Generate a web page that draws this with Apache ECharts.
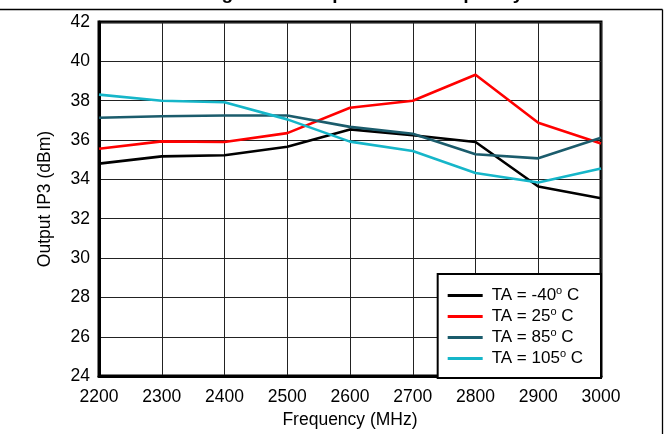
<!DOCTYPE html>
<html>
<head>
<meta charset="utf-8">
<script src="https://cdn.jsdelivr.net/npm/echarts@6/dist/echarts.min.js"></script>
<style>
  html, body { margin: 0; padding: 0; background: #fff; }
  #chart { width: 669px; height: 434px; }
</style>
</head>
<body>
<div id="chart"></div>
<script>
// Frequency sweep points (MHz)
const freqMHz = [2200, 2300, 2400, 2500, 2600, 2700, 2800, 2900, 3000];

// Output IP3 (dBm) at each ambient temperature
const ip3Minus40 = [34.8, 35.17, 35.23, 35.66, 36.54, 36.24, 35.9, 33.64, 33.04];
const ip3Plus25  = [35.56, 35.93, 35.9, 36.35, 37.64, 38.0, 39.32, 36.88, 35.82];
const ip3Plus85  = [37.13, 37.21, 37.25, 37.25, 36.67, 36.32, 35.28, 35.07, 36.12];
const ip3Plus105 = [38.31, 38.0, 37.92, 37.05, 35.92, 35.44, 34.32, 33.84, 34.55];

// Legend labels
const tempLabels = ['TA = -40° C', 'TA = 25° C', 'TA = 85° C', 'TA = 105° C'];
const lineColors = ['#000000', '#ff0000', '#1b5c6c', '#16b6c9'];

// Axis ranges
const xRange = { min: 2200, max: 3000, step: 100 };
const yRange = { min: 24, max: 42, step: 2 };

const titleText = 'Figure 20. Output IP3 vs Frequency';
const FONT = '"Liberation Sans", Arial, Helvetica, sans-serif';

const seriesValues = [ip3Minus40, ip3Plus25, ip3Plus85, ip3Plus105];

const chart = echarts.init(document.getElementById('chart'), null, { renderer: 'canvas' });

chart.setOption({
  animation: false,
  backgroundColor: '#ffffff',
  textStyle: { fontFamily: FONT, color: '#000' },
  graphic: [
    {
      // page title sits above the frame line; only its lower edge falls inside the page
      type: 'text', x: 364, y: 3, z: 10,
      style: { text: titleText, font: 'bold 19px ' + FONT, fill: '#000', align: 'center', verticalAlign: 'bottom' }
    },
    {
      type: 'line', z: 10,
      shape: { x1: 0, y1: 9.5, x2: 662.5, y2: 9.5 },
      style: { stroke: '#000', lineWidth: 1.3 }
    },
    {
      type: 'line', z: 10,
      shape: { x1: 662.5, y1: 9.5, x2: 662.5, y2: 434 },
      style: { stroke: '#000', lineWidth: 1.3 }
    }
  ],
  grid: {
    left: 99, top: 22, right: 68, bottom: 56,
    show: true, borderColor: '#000', borderWidth: 3, backgroundColor: 'transparent'
  },
  legend: {
    orient: 'vertical',
    right: 68, bottom: 56,
    padding: [11, 18, 11, 10],
    itemGap: 2,
    itemWidth: 35,
    itemHeight: 3,
    icon: 'rect',
    backgroundColor: '#fff',
    borderColor: '#000',
    borderWidth: 2,
    borderRadius: 0,
    data: tempLabels,
    formatter: function (name) {
      const parts = name.split('°');
      return '{t|' + parts[0] + '}{s|o}{t|' + parts[1] + '}';
    },
    textStyle: {
      padding: [0, 0, 0, 4],
      rich: {
        t: { fontSize: 17, lineHeight: 21, fontFamily: FONT, color: '#000' },
        s: { fontSize: 11, lineHeight: 12, verticalAlign: 'top', fontFamily: FONT, color: '#000' }
      }
    }
  },
  xAxis: {
    type: 'value',
    min: xRange.min, max: xRange.max, interval: xRange.step,
    name: 'Frequency (MHz)',
    nameLocation: 'middle',
    nameGap: 34,
    nameTextStyle: { fontSize: 17.5, fontFamily: FONT, color: '#000' },
    axisLine: { show: true, lineStyle: { color: '#000', width: 3 } },
    axisTick: { show: false },
    axisLabel: {
      fontSize: 17.5, margin: 12, color: '#000', fontFamily: FONT,
      formatter: function (v) { return String(v); }
    },
    splitLine: { show: true, lineStyle: { color: '#222', width: 1 } }
  },
  yAxis: {
    type: 'value',
    min: yRange.min, max: yRange.max, interval: yRange.step,
    name: 'Output IP3 (dBm)',
    nameLocation: 'middle',
    nameGap: 45,
    nameTextStyle: { fontSize: 17.5, fontFamily: FONT, color: '#000' },
    axisLine: { show: true, lineStyle: { color: '#000', width: 3 } },
    axisTick: { show: false },
    axisLabel: { fontSize: 17.5, margin: 9, color: '#000', fontFamily: FONT },
    splitLine: { show: true, lineStyle: { color: '#222', width: 1 } }
  },
  series: tempLabels.map(function (label, i) {
    return {
      name: label,
      type: 'line',
      data: freqMHz.map(function (f, j) { return [f, seriesValues[i][j]]; }),
      showSymbol: false,
      smooth: false,
      color: lineColors[i],
      lineStyle: { width: 2.6, color: lineColors[i] },
      z: 3 + i
    };
  })
});
</script>
</body>
</html>
